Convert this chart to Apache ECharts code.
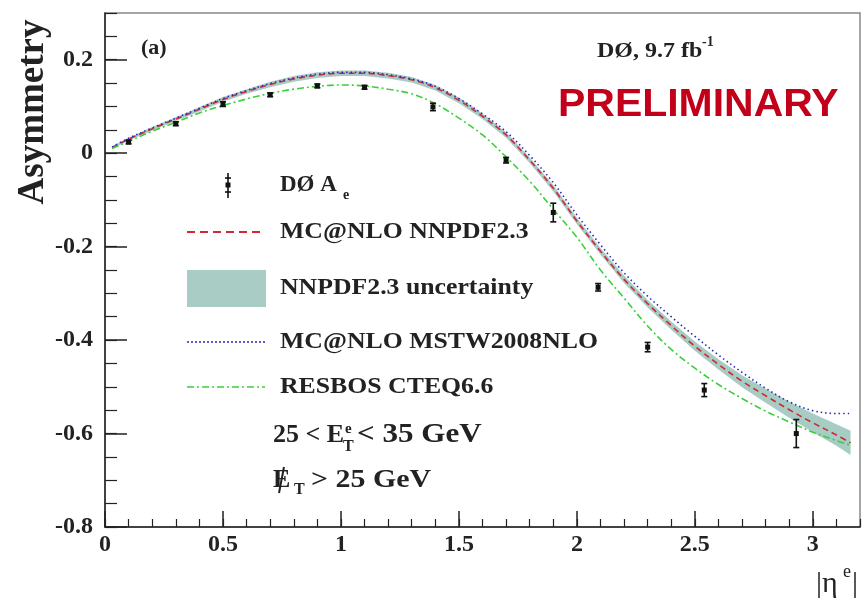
<!DOCTYPE html>
<html><head><meta charset="utf-8">
<script src="https://cdn.jsdelivr.net/npm/echarts@6/dist/echarts.min.js"></script>
<style>html,body{margin:0;padding:0;background:#fff}#c{width:863px;height:600px}</style>
</head><body><div id="c"></div>
<script>
// ---- data ----
const etaGrid = [0.03,0.1,0.2,0.3,0.4,0.5,0.6,0.7,0.8,0.9,1.0,1.1,1.2,1.3,1.4,1.5,1.6,1.7,1.8,1.9,2.0,2.1,2.2,2.3,2.4,2.5,2.6,2.7,2.8,2.9,3.0,3.1,3.16];
const nnpdfCentral = [0.012,0.03,0.052,0.073,0.094,0.115,0.132,0.147,0.159,0.167,0.171,0.171,0.166,0.157,0.14,0.113,0.079,0.039,-0.015,-0.075,-0.145,-0.21,-0.27,-0.322,-0.369,-0.413,-0.452,-0.488,-0.519,-0.549,-0.577,-0.603,-0.62];
const nnpdfUnc = [0.003,0.003,0.004,0.004,0.005,0.005,0.005,0.006,0.006,0.006,0.006,0.006,0.006,0.006,0.006,0.006,0.006,0.006,0.006,0.007,0.007,0.007,0.008,0.008,0.009,0.01,0.011,0.013,0.015,0.017,0.02,0.023,0.026];
const mstw = [0.013,0.032,0.054,0.075,0.096,0.117,0.134,0.149,0.161,0.169,0.173,0.173,0.168,0.159,0.143,0.117,0.084,0.046,-0.005,-0.063,-0.132,-0.196,-0.256,-0.306,-0.35,-0.392,-0.432,-0.469,-0.503,-0.532,-0.551,-0.557,-0.557];
const resbos = [0.01,0.025,0.047,0.066,0.086,0.102,0.116,0.128,0.137,0.143,0.146,0.144,0.137,0.127,0.106,0.075,0.039,-0.008,-0.06,-0.12,-0.18,-0.25,-0.31,-0.37,-0.42,-0.46,-0.495,-0.525,-0.552,-0.575,-0.597,-0.615,-0.625];
const dataEta = [0.1,0.3,0.5,0.7,0.9,1.1,1.39,1.7,1.9,2.09,2.3,2.54,2.93];
const dataAsym = [0.024,0.063,0.105,0.125,0.144,0.141,0.099,-0.015,-0.127,-0.287,-0.415,-0.507,-0.600];
const dataErr = [0.004,0.004,0.005,0.004,0.004,0.004,0.008,0.006,0.02,0.008,0.01,0.014,0.03];
const legendLabels = ['DØ A','MC@NLO NNPDF2.3','NNPDF2.3 uncertainty','MC@NLO MSTW2008NLO','RESBOS CTEQ6.6'];

// ---- build ----
const SERIF = "'Liberation Serif','DejaVu Serif',serif";
const pair = (xs, ys) => xs.map((x, i) => [x, ys[i]]);
const bandLow = nnpdfCentral.map((v, i) => v - nnpdfUnc[i]);
const bandHigh = nnpdfCentral.map((v, i) => v + nnpdfUnc[i]);
const SM = 0.35;
const RED = '#d02838', BLUE = '#2a2ab8', GREEN = '#3ccf3c', BAND = 'rgba(150,195,185,0.85)';

const chart = echarts.init(document.getElementById('c'));
const tickFont = {fontFamily: SERIF, fontWeight: 'bold', fontSize: 24, color: '#222'};

function txt(x, y, text, font, sx, extra) {
  return {type: 'text', x: x, y: y, z: 100, silent: true, scaleX: sx || 1,
    style: Object.assign({text: text, font: font, fill: '#222', textAlign: 'left', textVerticalAlign: 'middle'}, extra || {})};
}
function ln(x1, y1, x2, y2, stroke, lw, dash) {
  return {type: 'line', z: 100, silent: true, shape: {x1, y1, x2, y2}, style: {stroke, lineWidth: lw, lineDash: dash || null}};
}
const LF = 'bold 23px ' + SERIF;
const LS = 1.12;
const graphics = [
  txt(141, 48, '(a)', 'bold 22px ' + SERIF),
  txt(597, 51, 'DØ, 9.7 fb', 'bold 22px ' + SERIF, 1.09),
  txt(702, 42, '-1', 'bold 14px ' + SERIF),
  txt(558, 105, 'PRELIMINARY', "bold 39px 'Liberation Sans','DejaVu Sans',sans-serif", 1.05, {fill: '#c2001a'}),
  {type: 'text', x: 33, y: 112, rotation: Math.PI / 2, z: 100, silent: true,
    style: {text: 'Asymmetry', font: 'bold 37px ' + SERIF, fill: '#222', textAlign: 'center', textVerticalAlign: 'middle'}},
  txt(816, 584, '|η', '30px ' + SERIF),
  txt(843, 572, 'e', '18px ' + SERIF),
  txt(852, 584, '|', '30px ' + SERIF),
  // legend: error-bar marker
  ln(228, 173, 228, 198, '#111', 1.6),
  ln(225, 178, 231, 178, '#111', 1.6),
  ln(225, 192, 231, 192, '#111', 1.6),
  {type: 'rect', z: 100, silent: true, shape: {x: 225.5, y: 182.5, width: 5, height: 5}, style: {fill: '#111'}},
  txt(280, 185, legendLabels[0], LF),
  txt(343, 195, 'e', 'bold 14px ' + SERIF),
  ln(187, 232, 265, 232, RED, 2, [8, 5]),
  txt(280, 232, legendLabels[1], LF, LS),
  {type: 'rect', z: 100, silent: true, shape: {x: 187, y: 270, width: 79, height: 37}, style: {fill: '#a9cdc5'}},
  txt(280, 288, legendLabels[2], LF, LS),
  ln(187, 342, 265, 342, BLUE, 1.5, [2, 2]),
  txt(280, 342, legendLabels[3], LF, LS),
  ln(187, 387, 265, 387, GREEN, 1.5, [7, 3, 2, 3]),
  txt(280, 387, legendLabels[4], LF, LS),
  txt(273, 435, '25 < E', 'bold 26px ' + SERIF),
  txt(345, 429, 'e', 'bold 15px ' + SERIF),
  txt(343, 447, 'T', 'bold 16px ' + SERIF),
  txt(357, 435, '< 35 GeV', 'bold 27px ' + SERIF, 1.15),
  txt(273, 480, 'E', 'bold 26px ' + SERIF),
  ln(279, 493, 284, 467, '#222', 2),
  txt(294, 490, 'T', 'bold 16px ' + SERIF),
  txt(311, 480, '> 25 GeV', 'bold 26px ' + SERIF, 1.15)
];

const bandSeries = {
  type: 'custom', name: 'NNPDF2.3 uncertainty', z: 1,
  data: etaGrid.map((x, i) => [x, bandLow[i], bandHigh[i]]),
  encode: {x: 0, y: [1, 2]},
  renderItem: (params, api) => {
    if (params.dataIndex !== 0) return null;
    const up = [], dn = [];
    for (let i = 0; i < etaGrid.length; i++) {
      up.push(api.coord([etaGrid[i], bandHigh[i]]));
      dn.push(api.coord([etaGrid[i], bandLow[i]]));
    }
    return {type: 'polygon', shape: {points: up.concat(dn.reverse())}, style: {fill: BAND}};
  }
};

const errorBarSeries = {
  type: 'custom', name: 'data', z: 10,
  data: dataEta.map((x, i) => [x, dataAsym[i], dataErr[i]]),
  encode: {x: 0, y: 1},
  renderItem: (params, api) => {
    const x = api.value(0), y = api.value(1), e = api.value(2);
    const c = api.coord([x, y]), t = api.coord([x, y + e]), b = api.coord([x, y - e]);
    const st = {stroke: '#111', lineWidth: 1.6};
    return {type: 'group', children: [
      {type: 'line', shape: {x1: c[0], y1: t[1], x2: c[0], y2: b[1]}, style: st},
      {type: 'line', shape: {x1: c[0] - 3, y1: t[1], x2: c[0] + 3, y2: t[1]}, style: st},
      {type: 'line', shape: {x1: c[0] - 3, y1: b[1], x2: c[0] + 3, y2: b[1]}, style: st},
      {type: 'rect', shape: {x: c[0] - 2.5, y: c[1] - 2.5, width: 5, height: 5}, style: {fill: '#111'}}
    ]};
  }
};

const lineSeries = (name, ys, color, dash, width, z) => ({
  type: 'line', name, data: pair(etaGrid, ys), smooth: SM, symbol: 'none', z: z,
  lineStyle: {color, width, type: dash}, emphasis: {disabled: true}, animation: false
});

chart.setOption({
  animation: false,
  backgroundColor: '#fff',
  grid: {left: 105, right: 3, top: 13, bottom: 73, show: true, borderColor: '#888', borderWidth: 1.5, backgroundColor: 'transparent'},
  xAxis: [
    {type: 'value', min: 0, max: 3.2, interval: 0.5, position: 'bottom',
      axisLine: {show: true, onZero: false, lineStyle: {color: '#222', width: 1.5}},
      axisTick: {show: true, inside: true, length: 16, lineStyle: {color: '#222', width: 1.5}},
      axisLabel: Object.assign({margin: 6, showMaxLabel: false}, tickFont),
      splitLine: {show: false}},
    {type: 'value', min: 0, max: 3.2, interval: 0.1, position: 'bottom',
      axisLine: {show: false, onZero: false}, axisTick: {show: true, inside: true, length: 8, lineStyle: {color: '#222', width: 1.2}},
      axisLabel: {show: false}, splitLine: {show: false}}
  ],
  yAxis: [
    {type: 'value', min: -0.8, max: 0.3, interval: 0.2, position: 'left',
      axisLine: {show: true, onZero: false, lineStyle: {color: '#222', width: 1.5}},
      axisTick: {show: true, inside: true, length: 22, lineStyle: {color: '#222', width: 1.5}},
      axisLabel: Object.assign({margin: 12, showMaxLabel: false,
        formatter: v => Math.abs(v) < 1e-9 ? '0' : String(Math.round(v * 10) / 10)}, tickFont),
      splitLine: {show: false}},
    {type: 'value', min: -0.8, max: 0.3, interval: 0.05, position: 'left',
      axisLine: {show: false, onZero: false}, axisTick: {show: true, inside: true, length: 12, lineStyle: {color: '#222', width: 1.2}},
      axisLabel: {show: false}, splitLine: {show: false}}
  ],
  series: [
    bandSeries,
    lineSeries('MC@NLO NNPDF2.3', nnpdfCentral, RED, [6, 4], 1.6, 3),
    lineSeries('MC@NLO MSTW2008NLO', mstw, BLUE, [1.5, 3], 1.6, 4),
    lineSeries('RESBOS CTEQ6.6', resbos, GREEN, [7, 3, 2, 3], 1.6, 4),
    errorBarSeries
  ],
  graphic: graphics
});
</script>
</body></html>
